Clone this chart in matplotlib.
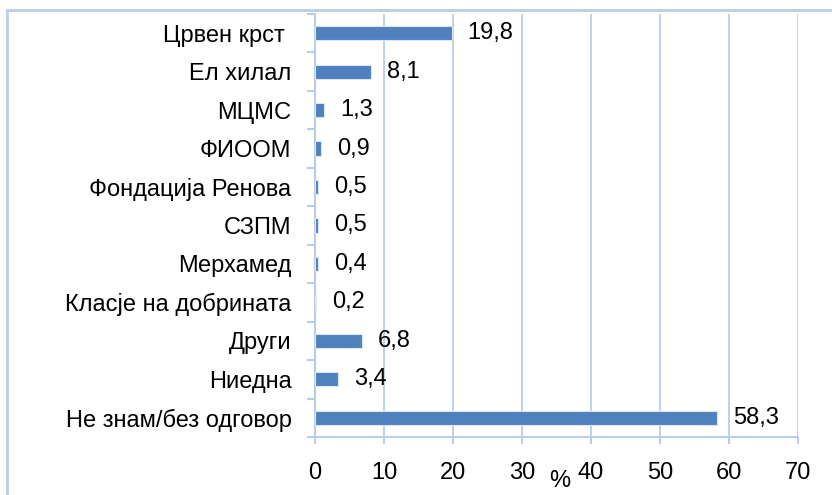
import matplotlib.pyplot as plt
from matplotlib.patches import Rectangle

categories = ['Црвен крст ', 'Ел хилал', 'МЦМС', 'ФИООМ', 'Фондација Ренова', 'СЗПМ',
              'Мерхамед', 'Класје на добрината', 'Други', 'Ниедна', 'Не знам/без одговор']
values = [19.8, 8.1, 1.3, 0.9, 0.5, 0.5, 0.4, 0.2, 6.8, 3.4, 58.3]
xticks = [0, 10, 20, 30, 40, 50, 60, 70]

plt.rcParams['font.family'] = ['Liberation Sans', 'DejaVu Sans']
grid_c = '#B9CDE5'
bar_c = '#4F81BD'
fs = 17

fig = plt.figure(figsize=(8.32, 4.95), dpi=100)
fig.patches.append(Rectangle((7 / 832, -0.1), 1.2, 1 - 10 / 495 + 0.1, transform=fig.transFigure,
                             fill=False, edgecolor=grid_c, linewidth=2))
ax = fig.add_axes([315 / 832, 58 / 495, 483 / 832, 423 / 495])

ypos = list(range(len(categories)))
ax.barh(ypos, values, height=0.37, color=bar_c, edgecolor='#DCE6F2', linewidth=0.8, zorder=3)
for y, v in zip(ypos, values):
    ax.text(v + 2.3, y, f'{v:.1f}'.replace('.', ','), va='center', ha='left', fontsize=fs)

ax.set_xlim(0, 70)
ax.set_ylim(len(categories) - 0.5, -0.5)
ax.set_xticks(xticks)
ax.set_xticklabels([str(t) for t in xticks], fontsize=fs)
ax.set_yticks(ypos)
ax.set_yticklabels(categories, fontsize=fs)
ax.set_yticks([i - 0.5 for i in range(len(categories) + 1)], minor=True)
ax.tick_params(axis='y', which='major', length=0, pad=17)
ax.tick_params(axis='y', which='minor', length=6, color=grid_c, width=1.5)
ax.tick_params(axis='x', length=5, color=grid_c, width=1.5, pad=13)
ax.grid(axis='x', color=grid_c, linewidth=1.3, zorder=0)
for s in ['top', 'right']:
    ax.spines[s].set_visible(False)
for s in ['left', 'bottom']:
    ax.spines[s].set_color(grid_c)
    ax.spines[s].set_linewidth(1.5)
ax.text(35.4, -0.105, '%', transform=ax.get_xaxis_transform(), fontsize=fs,
        ha='center', va='center')

fig.savefig('out.png', dpi=100)
